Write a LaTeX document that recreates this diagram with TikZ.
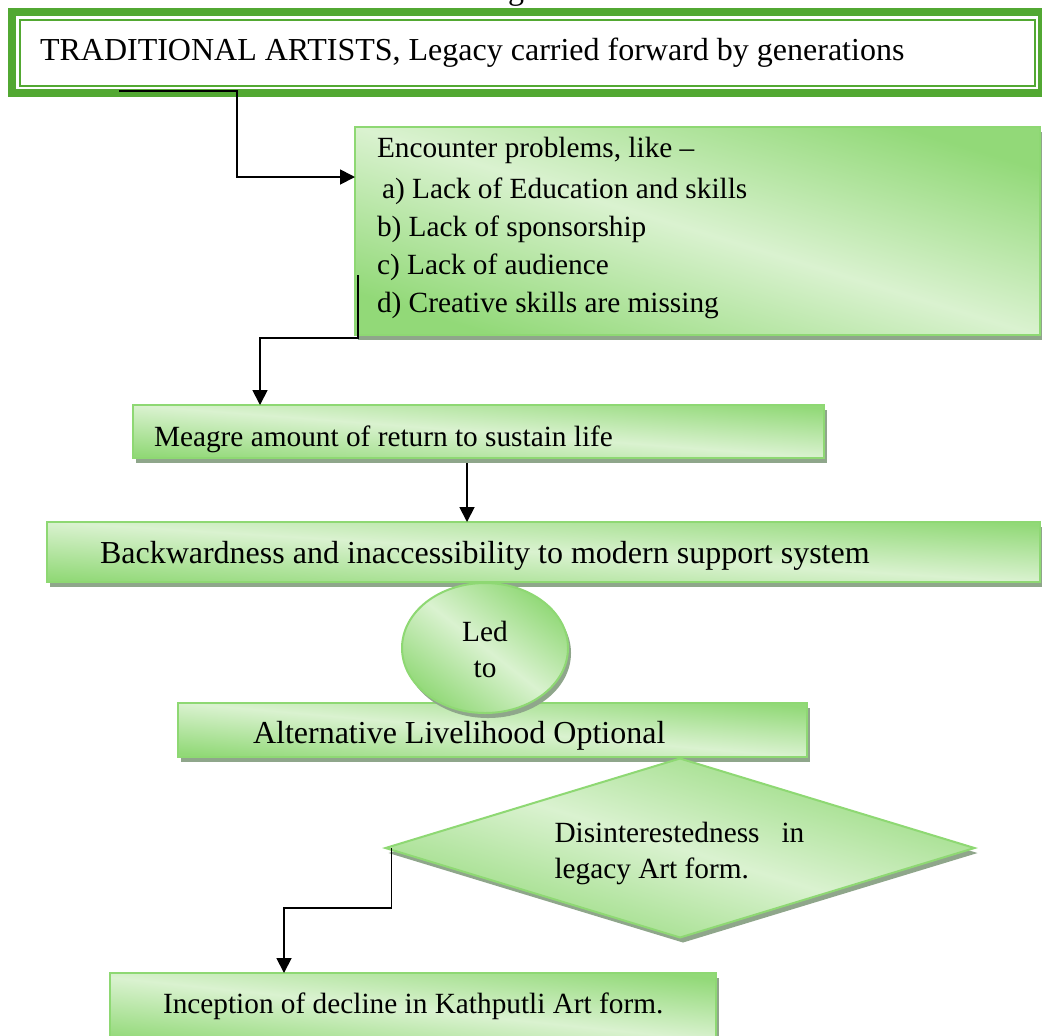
\documentclass[tikz,border=0pt]{standalone}
\usepackage{fontspec}
\setmainfont{Liberation Serif}
\usetikzlibrary{shapes.geometric,arrows.meta,calc}
\definecolor{gdark}{RGB}{146,217,120}
\definecolor{glight}{RGB}{218,242,208}
\definecolor{gborder}{RGB}{142,216,115}
\definecolor{gshadow}{RGB}{143,166,139}
\definecolor{tgreen}{RGB}{82,168,50}
\begin{document}
\begin{tikzpicture}[x=0.5pt,y=-0.5pt,
  box/.style={draw=gborder, line width=1pt, inner sep=0pt, outer sep=0pt,
    top color=gdark, bottom color=gdark, middle color=glight,
    preaction={fill=gshadow, transform canvas={shift={(1.5pt,-2.5pt)}}}},
  body/.style={font=\fontsize{14.65pt}{18pt}\selectfont, inner sep=0pt, outer sep=0pt, anchor=base west},
  big/.style={font=\fontsize{16pt}{19pt}\selectfont, inner sep=0pt, outer sep=0pt, anchor=base west},
  arr/.style={draw=black, line width=0.9pt, -{Triangle[length=7.5pt,width=7.5pt]}}]
\useasboundingbox (0,0) rectangle (1042,1035);
\fill[white] (0,0) rectangle (1042,1035);
\clip (0,0) rectangle (1042,1035);

% fragment of a caption above the picture
\node[big, anchor=base] (gfrag) at (516,-1) {g};

% title box with thick-thin border
\node[draw=tgreen, line width=4pt, minimum width=515pt, minimum height=40.5pt,
      inner sep=0pt, outer sep=0pt] (title) at (527,52.5) {};
\draw[tgreen, line width=1pt] ($(title.north west)+(7.5,7.5)$) rectangle ($(title.south east)+(-7.5,-7.5)$);

% shapes
\node[box, minimum width=342.5pt, minimum height=104pt, shading angle=-17] (enc) at (697.5,231) {};
\node[box, minimum width=345.5pt, minimum height=26.5pt, shading angle=-4.4] (mea) at (478.5,431.5) {};
\node[box, minimum width=496.5pt, minimum height=30pt, shading angle=-3.5] (bac) at (543.5,552) {};
\node[box, minimum width=314.5pt, minimum height=27pt, shading angle=-5] (alt) at (492.5,730) {};
\node[box, ellipse, minimum width=83pt, minimum height=65pt, shading angle=-38] (led) at (485,648) {};
\node[box, diamond, minimum width=294.5pt, minimum height=89.5pt, shading angle=-17] (dia) at (680,848) {};
\node[box, minimum width=303pt, minimum height=36pt, shading angle=-6] (inc) at (413,1009) {};

% connectors
\coordinate (t1) at (119,91);
\coordinate (k1) at (237,177);
\draw[arr] (t1) -| (k1) -- (k1 -| enc.west);

\coordinate (s2) at (358,275);
\coordinate (b2) at (358,338);
\coordinate (m2) at ($(mea.north west)+(127,0)$);
\draw[arr] (s2) -- (b2) -| (m2);

\coordinate (s3) at (467,463);
\draw[arr] (s3) -- (s3 |- bac.north);

\coordinate (s5) at ($(dia.west)+(6,0)$);
\coordinate (k5) at (284,908);
\draw[arr] (s5) |- (k5) -- (k5 |- inc.north);

% texts
\node[big] (ttitle) at (40,60) {TRADITIONAL ARTISTS, Legacy carried forward by generations};
\node[body] (enc1) at (377,157) {Encounter problems, like –};
\node[body] (enc2) at (382,198) {a) Lack of Education and skills};
\node[body] (enc3) at (377,236) {b) Lack of sponsorship};
\node[body] (enc4) at (377,274) {c) Lack of audience};
\node[body] (enc5) at (377,312) {d) Creative skills are missing};
\node[body] (tmea) at (154,446) {Meagre amount of return to sustain life};
\node[big] (tbac) at (100,563) {Backwardness and inaccessibility to modern support system};
\node[body, anchor=base] (tled1) at (485,641) {Led};
\node[body, anchor=base] (tled2) at (485,677) {to};
\node[big] (talt) at (253,743) {Alternative Livelihood Optional};
\node[body] (tdia1) at (554.5,842) {Disinterestedness\hspace{11pt}in};
\node[body] (tdia2) at (554.5,878) {legacy Art form.};
\node[body] (tinc) at (163,1013) {Inception of decline in Kathputli Art form.};
\end{tikzpicture}
\end{document}
